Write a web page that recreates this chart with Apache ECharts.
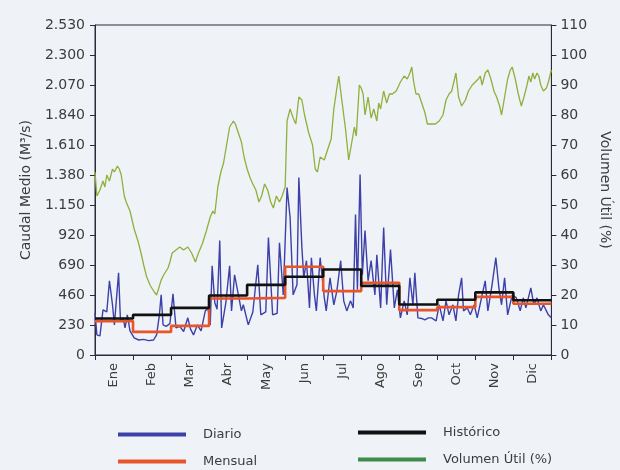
<!DOCTYPE html>
<html>
<head>
<meta charset="utf-8">
<script src="https://cdn.jsdelivr.net/npm/echarts@6/dist/echarts.min.js"></script>
<style>
html,body{margin:0;padding:0;background:#eff2f7;}
#c{width:620px;height:470px;}
</style>
</head>
<body>
<div id="c"></div>
<script>
// Month categories
var months = ['Ene','Feb','Mar','Abr','May','Jun','Jul','Ago','Sep','Oct','Nov','Dic'];
// Left axis ticks (Caudal Medio, M3/s)
var flowTicks = [0,230,460,690,920,1150,1380,1610,1840,2070,2300,2530];
// Right axis ticks (Volumen Útil %)
var volTicks = [0,10,20,30,40,50,60,70,80,90,100,110];

// Historical monthly flow (black steps)
var historico = [280, 308, 361, 456, 538, 600, 656, 530, 387, 424, 480, 420];
// Monthly flow of the year (red steps)
var mensual = [260, 177, 223, 433, 438, 677, 490, 554, 344, 367, 446, 393];

// Daily flow: position in months (0..12) and value
var diarioT = [0.00,0.05,0.13,0.21,0.31,0.38,0.46,0.51,0.56,0.62,0.67,0.74,0.79,0.85,0.92,1.03,1.15,1.28,1.41,1.54,1.62,1.69,1.74,1.79,1.87,1.97,2.05,2.13,2.23,2.33,2.44,2.51,2.59,2.69,2.79,2.90,2.97,3.03,3.08,3.15,3.21,3.28,3.33,3.44,3.54,3.59,3.67,3.77,3.85,3.90,4.03,4.15,4.28,4.36,4.49,4.56,4.67,4.79,4.85,4.95,5.05,5.13,5.21,5.31,5.36,5.44,5.49,5.56,5.64,5.69,5.77,5.82,5.92,6.03,6.08,6.18,6.28,6.36,6.46,6.54,6.62,6.72,6.79,6.85,6.90,6.97,7.03,7.10,7.18,7.26,7.36,7.41,7.51,7.59,7.67,7.77,7.87,7.95,8.03,8.13,8.21,8.28,8.36,8.41,8.49,8.59,8.67,8.77,8.85,8.97,9.05,9.15,9.23,9.31,9.41,9.49,9.56,9.64,9.69,9.79,9.87,9.97,10.05,10.18,10.26,10.33,10.44,10.54,10.62,10.69,10.77,10.85,10.97,11.08,11.18,11.26,11.33,11.46,11.54,11.62,11.72,11.79,11.92,12.00];
var diarioV = [323,154,146,346,330,569,385,231,415,630,261,285,208,308,185,131,115,120,110,115,154,300,461,231,220,240,470,208,220,180,285,200,154,230,185,338,361,231,684,400,350,877,208,400,684,338,615,461,338,385,231,330,692,308,330,900,308,320,861,461,1284,1054,461,538,1361,823,592,723,361,746,461,338,746,438,338,592,385,492,723,415,338,415,360,1077,500,1384,615,954,569,723,461,769,361,977,385,808,361,500,285,415,308,592,385,630,285,280,269,285,285,261,385,261,415,308,385,261,461,592,338,361,308,385,285,461,569,338,538,746,515,385,592,308,461,438,338,438,361,515,385,438,338,385,308,285];

// Useful volume (%): position in months (0..12) and value
var volT = [0.00,0.05,0.13,0.21,0.26,0.31,0.38,0.46,0.51,0.59,0.64,0.69,0.77,0.82,0.92,1.03,1.13,1.21,1.28,1.36,1.46,1.56,1.62,1.67,1.74,1.82,1.92,1.97,2.03,2.13,2.23,2.33,2.44,2.54,2.64,2.72,2.82,2.92,3.03,3.10,3.15,3.23,3.31,3.38,3.46,3.54,3.59,3.64,3.69,3.77,3.85,3.92,4.00,4.08,4.15,4.23,4.31,4.38,4.46,4.54,4.62,4.69,4.77,4.85,4.92,5.00,5.05,5.13,5.21,5.28,5.36,5.44,5.51,5.62,5.72,5.79,5.85,5.92,6.03,6.13,6.21,6.28,6.36,6.41,6.49,6.59,6.67,6.74,6.82,6.87,6.95,7.00,7.05,7.10,7.18,7.26,7.33,7.41,7.46,7.51,7.59,7.67,7.74,7.82,7.92,8.03,8.13,8.21,8.28,8.33,8.38,8.44,8.51,8.59,8.67,8.74,8.85,8.95,9.05,9.15,9.23,9.31,9.38,9.49,9.56,9.64,9.74,9.82,9.92,10.00,10.08,10.13,10.18,10.26,10.33,10.41,10.49,10.56,10.64,10.69,10.77,10.85,10.92,10.97,11.05,11.13,11.21,11.28,11.36,11.41,11.46,11.51,11.56,11.62,11.67,11.72,11.79,11.87,11.92,12.00];
var volV = [61,53,55,58,56,60,58,62,61,63,62,60,53,51,48,42,38,34,30,26,23,21,20,22,25,27,29,31,34,35,36,35,36,34,31,34,37,41,46,48,47,56,61,64,70,76,77,78,77,74,71,66,62,59,57,55,51,53,57,55,51,49,53,51,53,56,78,82,79,77,86,85,80,74,70,62,61,66,65,69,72,82,89,93,85,75,65,70,76,73,90,89,87,80,86,79,82,78,84,82,88,84,87,87,88,91,93,92,94,96,91,87,87,84,81,77,77,77,78,80,85,87,88,94,86,83,85,88,90,91,92,93,90,94,95,92,88,86,83,80,86,92,95,96,92,87,83,86,90,93,91,94,92,94,93,90,88,89,91,95];

function pairs(xs, ys){ return xs.map(function(x,i){ return [x, ys[i]]; }); }
function steps(vals){
  var out = [];
  vals.forEach(function(v,i){ out.push([i, v]); out.push([i+1, v]); });
  return out;
}
function fmtThousands(v){
  var s = String(v);
  return s.length > 3 ? s.slice(0, s.length-3) + '.' + s.slice(s.length-3) : s;
}

var FONT = 'DejaVu Sans';
var TXT = '#3c3c3c';
var legendCommon = {orient: 'vertical', top: 428, padding: 0, height: 60, itemWidth: 68, itemHeight: 4, itemGap: 14, icon: 'rect',
  textStyle: {fontFamily: FONT, fontSize: 13, color: TXT, padding: [0,0,0,12]}};
var chart = echarts.init(document.getElementById('c'), null, {renderer:'canvas'});
chart.setOption({
  backgroundColor: '#eff2f7',
  animation: false,
  textStyle: {fontFamily: FONT},
  grid: {left: 95, right: 57, top: 25, bottom: 115, show: true, borderColor: '#2a2a3a', borderWidth: 1, backgroundColor: 'transparent'},
  legend: [
    Object.assign({}, legendCommon, {left: 118,
     data: [{name: 'Diario', itemStyle: {color: '#3c40a8'}}, {name: 'Mensual', itemStyle: {color: '#e8552b'}}]}),
    Object.assign({}, legendCommon, {left: 358, top: 426,
     data: [{name: 'Histórico', itemStyle: {color: '#111111'}}, {name: 'Volumen Útil (%)', itemStyle: {color: '#3f8a4c'}}]})
  ],
  xAxis: [
    {type: 'category', data: months, boundaryGap: true, position: 'bottom',
     axisLine: {lineStyle: {color: '#2a2a3a', width: 1}},
     axisTick: {show: true, length: 5, lineStyle: {color: '#2a2a3a'}},
     axisLabel: {rotate: 90, margin: 8, fontFamily: FONT, fontSize: 13, color: TXT},
     splitLine: {show: false}},
    {type: 'value', min: 0, max: 12, show: false}
  ],
  yAxis: [
    {type: 'value', min: flowTicks[0], max: flowTicks[flowTicks.length-1], interval: 230,
     name: 'Caudal Medio (M³/s)', nameLocation: 'middle', nameGap: 62,
     nameTextStyle: {fontFamily: FONT, fontSize: 14, color: TXT},
     axisLine: {show: true, lineStyle: {color: '#2a2a3a'}},
     axisTick: {show: true, length: 5, lineStyle: {color: '#2a2a3a'}},
     axisLabel: {fontFamily: FONT, fontSize: 14, color: TXT, margin: 10, formatter: fmtThousands},
     splitLine: {show: false}},
    {type: 'value', min: volTicks[0], max: volTicks[volTicks.length-1], interval: 10, position: 'right',
     name: 'Volumen Útil (%)', nameLocation: 'middle', nameGap: 42, nameRotate: -90,
     nameTextStyle: {fontFamily: FONT, fontSize: 14, color: TXT},
     axisLine: {show: true, lineStyle: {color: '#2a2a3a'}},
     axisTick: {show: true, length: 5, lineStyle: {color: '#2a2a3a'}},
     axisLabel: {fontFamily: FONT, fontSize: 14, color: TXT, margin: 9},
     splitLine: {show: false}}
  ],
  series: [
    {name: 'Volumen Útil (%)', type: 'line', xAxisIndex: 1, yAxisIndex: 1, data: pairs(volT, volV),
     showSymbol: false, lineStyle: {color: '#8fb03c', width: 1.3}, itemStyle: {color: '#3f8a4c'}, z: 2},
    {name: 'Diario', type: 'line', xAxisIndex: 1, yAxisIndex: 0, data: pairs(diarioT, diarioV),
     showSymbol: false, lineStyle: {color: '#3c40a8', width: 1.4}, itemStyle: {color: '#3c40a8'}, z: 3},
    {name: 'Mensual', type: 'line', xAxisIndex: 1, yAxisIndex: 0, data: steps(mensual),
     showSymbol: false, lineStyle: {color: '#e8552b', width: 2.6}, itemStyle: {color: '#e8552b'}, z: 4},
    {name: 'Histórico', type: 'line', xAxisIndex: 1, yAxisIndex: 0, data: steps(historico),
     showSymbol: false, lineStyle: {color: '#111111', width: 2.6}, itemStyle: {color: '#111111'}, z: 5}
  ]
});
</script>
</body>
</html>
